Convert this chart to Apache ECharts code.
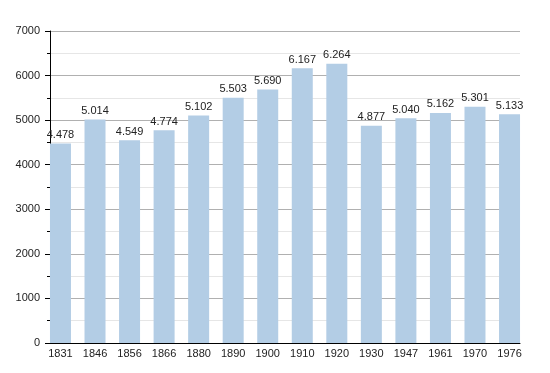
<!DOCTYPE html>
<html><head><meta charset="utf-8">
<script src="https://cdn.jsdelivr.net/npm/echarts@6/dist/echarts.min.js"></script>
<style>html,body{margin:0;padding:0;background:#fff}#c{width:550px;height:373px}</style>
</head><body><div id="c"></div>
<script>
const years = ['1831','1846','1856','1866','1880','1890','1900','1910','1920','1930','1947','1961','1970','1976'];
const population = [4478,5014,4549,4774,5102,5503,5690,6167,6264,4877,5040,5162,5301,5133];
const yMin = 0, yMax = 7000, yStep = 1000;

const font = 'Liberation Sans, Arial, sans-serif';
const chart = echarts.init(document.getElementById('c'), null, {renderer:'canvas'});
chart.setOption({
  animation:false,
  backgroundColor:'#fff',
  grid:[
    {left:50, right:30, top:31, bottom:30},
    {left:43.2, right:23.2, top:31, bottom:30}
  ],
  xAxis:[
    {gridIndex:0, type:'category', data:years, axisLine:{show:true, lineStyle:{color:'#000', width:1}},
     axisTick:{show:false}, axisLabel:{show:false}, splitLine:{show:false}},
    {gridIndex:1, type:'category', data:years, axisLine:{show:false}, axisTick:{show:false},
     axisLabel:{color:'#222', fontFamily:font, fontSize:11, margin:5}}
  ],
  yAxis:[
    {gridIndex:0, type:'value', min:yMin, max:yMax, interval:yStep,
     axisLine:{show:true, lineStyle:{color:'#000', width:1}},
     axisTick:{show:true, length:5, lineStyle:{color:'#000'}},
     minorTick:{show:true, splitNumber:2, length:3, lineStyle:{color:'#000'}},
     axisLabel:{color:'#222', fontFamily:font, fontSize:11, margin:10, formatter:v=>String(v)},
     splitLine:{show:true, lineStyle:{color:'#b0b0b0', width:1}},
     minorSplitLine:{show:true, lineStyle:{color:'#e6e6e6', width:1}}},
    {gridIndex:1, type:'value', min:yMin, max:yMax, interval:yStep, show:false, splitLine:{show:false}}
  ],
  series:[{
    type:'bar', xAxisIndex:1, yAxisIndex:1, data:population, barWidth:21,
    itemStyle:{color:'#b3cde5'},
    label:{show:true, position:'top', distance:3, color:'#222', fontFamily:font, fontSize:11,
      formatter:p=>{const s=String(p.value);return s.slice(0,s.length-3)+'.'+s.slice(-3);}}
  }]
});
</script></body></html>
